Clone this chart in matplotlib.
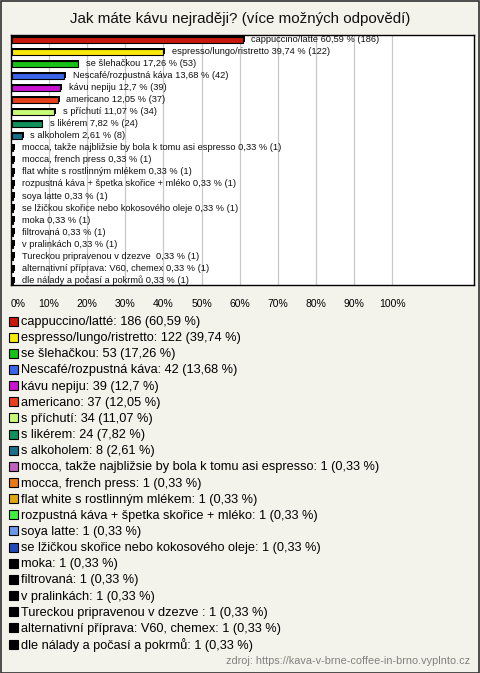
import matplotlib.pyplot as plt
from matplotlib.patches import Rectangle

plt.rcParams['font.family'] = ['Liberation Sans', 'DejaVu Sans']

categories = ['cappuccino/latté', 'espresso/lungo/ristretto', 'se šlehačkou',
              'Nescafé/rozpustná káva', 'kávu nepiju', 'americano', 's příchutí',
              's likérem', 's alkoholem',
              'mocca, takže najbližsie by bola k tomu asi espresso',
              'mocca, french press', 'flat white s rostlinným mlékem',
              'rozpustná káva + špetka skořice + mléko', 'soya latte',
              'se lžičkou skořice nebo kokosového oleje', 'moka', 'filtrovaná',
              'v pralinkách', 'Tureckou pripravenou v dzezve ',
              'alternativní příprava: V60, chemex', 'dle nálady a počasí a pokrmů']
counts = [186, 122, 53, 42, 39, 37, 34, 24, 8, 1, 1, 1, 1, 1, 1, 1, 1, 1, 1, 1, 1]
percents = [60.59, 39.74, 17.26, 13.68, 12.7, 12.05, 11.07, 7.82, 2.61,
            0.33, 0.33, 0.33, 0.33, 0.33, 0.33, 0.33, 0.33, 0.33, 0.33, 0.33, 0.33]
colors = ['#c8180c', '#f8e80c', '#18c018', '#3c64e8', '#c814d0', '#e8401c',
          '#c8fc78', '#10905c', '#187088', '#c060c0', '#e87818', '#e0a810',
          '#40f040', '#6898e8', '#2048b8', '#000000', '#000000', '#000000',
          '#000000', '#000000', '#000000']
xticks = [0, 10, 20, 30, 40, 50, 60, 70, 80, 90, 100]

W, H = 480, 673
bg = '#f4f3eb'
fig = plt.figure(figsize=(W / 100, H / 100), dpi=100, facecolor=bg)

fig.text(0.5, 1 - 19 / H, 'Jak máte kávu nejraději? (více možných odpovědí)',
         ha='center', va='center', fontsize=10.9, color='#111111')

ax = fig.add_axes([11 / W, 1 - 285 / H, 463 / W, 250 / H])
ax.set_facecolor('white')
n = len(categories)
ax.set_xlim(0, 121.5)
ax.set_ylim(n - 0.67, -0.41)
for g in xticks[1:]:
    ax.axvline(g, color='#c8c8c8', lw=0.9, zorder=0)

y = list(range(n))
# shadow for 3d look
ax.barh([v - 0.12 for v in y], [p + 0.5 for p in percents], height=0.5,
        left=0.2, color='black', zorder=2)
ax.barh(y, percents, height=0.5, left=0.2, color=colors, edgecolor='black',
        lw=0.8, zorder=3)

for i in range(n):
    lab = f"{categories[i]} {str(percents[i]).replace('.', ',')} % ({counts[i]})"
    ax.text(percents[i] + 2.5, i - 0.05, lab, va='center', ha='left',
            fontsize=6.7, color='#111111', zorder=4)

ax.set_yticks([])
ax.set_xticks(xticks)
ax.set_xticklabels([f'{t}%' for t in xticks], fontsize=7.5)
ax.get_xticklabels()[0].set_ha('left')
ax.tick_params(axis='x', length=0, pad=10)
for s in ax.spines.values():
    s.set_color('black')
    s.set_linewidth(1)

# legend
for i in range(n):
    yy = 1 - (322 + i * 16.15) / H
    fig.add_artist(Rectangle((9 / W, yy - 3.5 / H), 9 / W, 9 / H,
                             facecolor=colors[i], edgecolor='black', lw=0.8,
                             transform=fig.transFigure))
    lab = f"{categories[i]}: {counts[i]} ({str(percents[i]).replace('.', ',')} %)"
    fig.text(21 / W, yy, lab, va='center', ha='left', fontsize=9.2, color='black')

fig.text(470 / W, 1 - 661 / H, 'zdroj: https://kava-v-brne-coffee-in-brno.vyplnto.cz',
         ha='right', va='center', fontsize=7.8, color='#808080')

fig.add_artist(Rectangle((0.5 / W, 0.5 / H), (W - 1.5) / W, (H - 1.5) / H,
                         fill=False, edgecolor='#303030', lw=1.2,
                         transform=fig.transFigure))

fig.savefig('out.png', dpi=100, facecolor=bg)
